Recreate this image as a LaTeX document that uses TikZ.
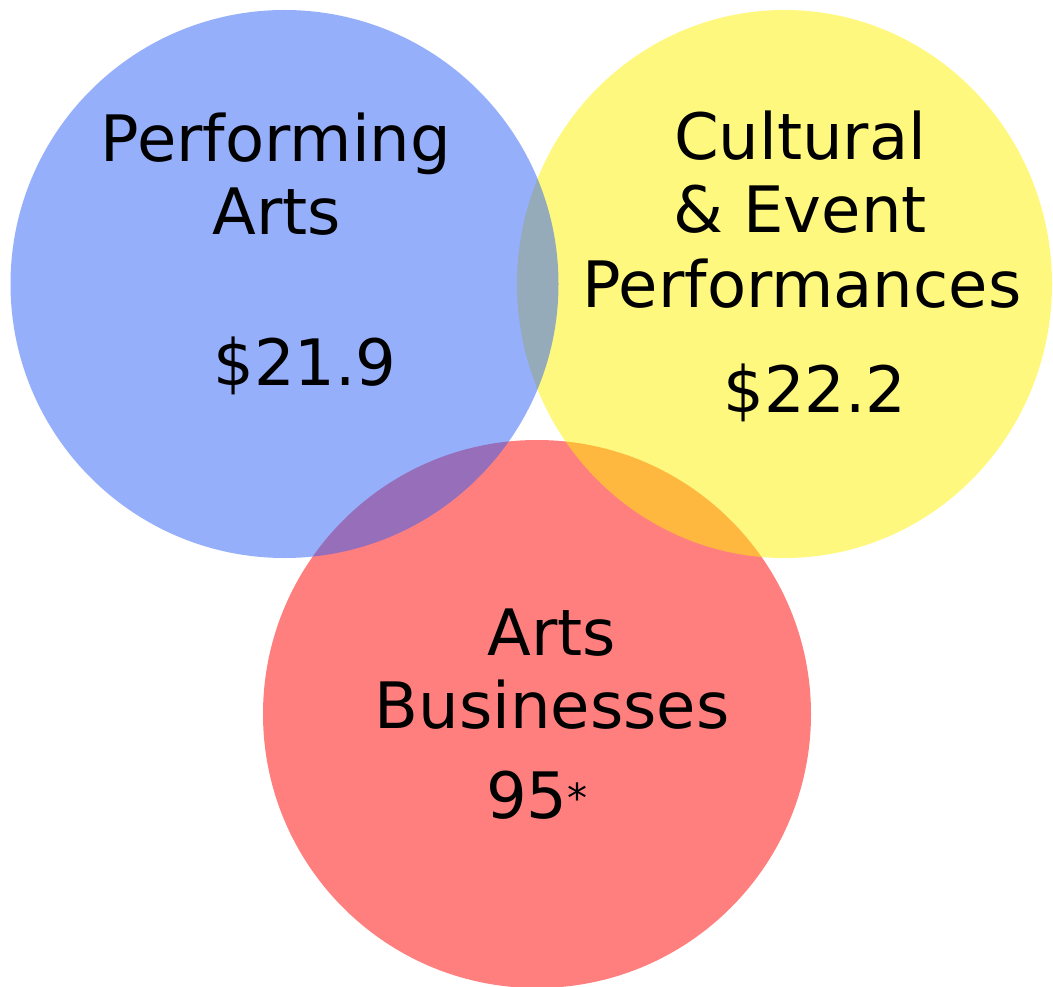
\documentclass[tikz,border=0pt]{standalone}
\usepackage{fontspec}
\setmainfont{DejaVu Sans}
\definecolor{artsblue}{RGB}{45,95,245}
\tikzset{lbl/.style={anchor=base,inner sep=0pt,font=\fontsize{64}{76}\selectfont},
	disc/.style={fill opacity=0.5}}
\begin{document}
\begin{tikzpicture}[x=1pt,y=-1pt]
	\useasboundingbox (0,0) rectangle (1053,987);
	\clip (0,0) rectangle (1053,987);
	% discs, bottom to top
	\fill[disc,red] (537,714) circle[radius=274pt];
	\fill[disc,yellow] (784.5,284) ellipse[x radius=267.5pt,y radius=274pt];
	\fill[disc,artsblue] (284.5,284) circle[radius=274pt];
	% left disc
	\node[lbl] (perf) at (276,162) {Performing};
	\node[lbl] (arts) at (277,235) {Arts};
	\node[lbl] (pval) at (305,385) {\$21.9};
	% right disc
	\node[lbl] (cult) at (800,160) {Cultural};
	\node[lbl] (evnt) at (800,233) {\& Event};
	\node[lbl] (perfs) at (802,308) {Performances};
	\node[lbl] (cval) at (815,412) {\$22.2};
	% bottom disc
	\node[lbl] (barts) at (552,655) {Arts};
	\node[lbl] (bus) at (552,728) {Businesses};
	\node[lbl] (bval) at (537,818) {95{\fontsize{40}{44}\selectfont\raisebox{6pt}{*}}};
\end{tikzpicture}
\end{document}
